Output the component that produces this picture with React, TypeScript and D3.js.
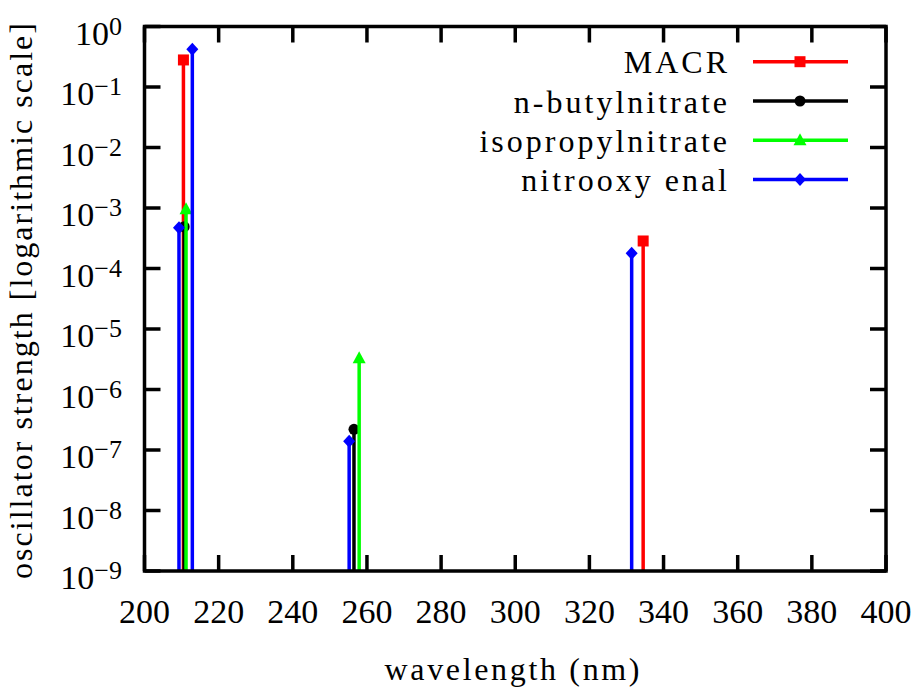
import React from 'react';
import * as d3 from 'd3';

// wavelength (nm) and oscillator strength for each molecule
const macrX = [210.5, 334.5];
const macrF = [0.28, 2.85e-4];
const butylX = [210.7, 256.5];
const butylF = [4.9e-4, 2.2e-7];
const isoX = [211.2, 257.9];
const isoF = [9.5e-4, 3.3e-6];
const enalX = [209.3, 212.9, 255.2, 331.4];
const enalF = [4.7e-4, 0.42, 1.4e-7, 1.78e-4];

const seriesNames = ['MACR', 'n-butylnitrate', 'isopropylnitrate', 'nitrooxy enal'];
const xTicks = [200, 220, 240, 260, 280, 300, 320, 340, 360, 380, 400];
const yExps = [0, -1, -2, -3, -4, -5, -6, -7, -8, -9];

const W = 919;
const H = 690;
const FONT = '"Liberation Serif", "DejaVu Serif", serif';

const series = [
  { name: seriesNames[0], xs: macrX, fs: macrF, color: '#ff0000', marker: 'square' },
  { name: seriesNames[1], xs: butylX, fs: butylF, color: '#000000', marker: 'circle' },
  { name: seriesNames[2], xs: isoX, fs: isoF, color: '#00ff00', marker: 'triangle' },
  { name: seriesNames[3], xs: enalX, fs: enalF, color: '#0000ff', marker: 'diamond' },
];

const Marker = ({ type, x, y, color }: { type: string; x: number; y: number; color: string }) => {
  if (type === 'square') return <rect x={x - 5.5} y={y - 5.5} width={11} height={11} fill={color} />;
  if (type === 'circle') return <circle cx={x} cy={y} r={5.5} fill={color} />;
  if (type === 'triangle')
    return <path d={`M${x},${y - 7} L${x + 6.5},${y + 5} L${x - 6.5},${y + 5} Z`} fill={color} />;
  return <path d={`M${x},${y - 6.5} L${x + 6},${y} L${x},${y + 6.5} L${x - 6},${y} Z`} fill={color} />;
};

const App = () => {
  const x = d3.scaleLinear().domain([200, 400]).range([144.5, 886]);
  const y = d3.scaleLog().domain([1e-9, 1]).range([571, 26.5]);
  const [x0, x1] = x.range();
  const [y0, y1] = y.range();
  const tickLen = 16;

  return (
    <svg width={W} height={H} style={{ position: 'absolute', left: 0, top: 0, background: '#fff' }} fontFamily={FONT}>
      <rect width={W} height={H} fill="#fff" />

      {/* impulses */}
      {series.map(s =>
        s.xs.map((wl, i) => (
          <g key={s.name + i}>
            <line x1={x(wl)} x2={x(wl)} y1={y0} y2={y(s.fs[i])} stroke={s.color} strokeWidth={3.5} />
            <Marker type={s.marker} x={x(wl)} y={y(s.fs[i])} color={s.color} />
          </g>
        ))
      )}

      {/* ticks */}
      {xTicks.map(t => (
        <g key={'x' + t}>
          <line x1={x(t)} x2={x(t)} y1={y0} y2={y0 - tickLen} stroke="#000" strokeWidth={3.5} />
          <line x1={x(t)} x2={x(t)} y1={y1} y2={y1 + tickLen} stroke="#000" strokeWidth={3.5} />
          <text x={x(t)} y={623} textAnchor="middle" fontSize={34}>{t}</text>
        </g>
      ))}
      {yExps.map(e => {
        const yy = y(Math.pow(10, e));
        return (
          <g key={'y' + e}>
            <line x1={x0} x2={x0 + tickLen} y1={yy} y2={yy} stroke="#000" strokeWidth={3.5} />
            <line x1={x1} x2={x1 - tickLen} y1={yy} y2={yy} stroke="#000" strokeWidth={3.5} />
            <text x={122} y={yy + 18} textAnchor="end" fontSize={34}>
              10
              <tspan dy={-10} fontSize={26}>{e === 0 ? '0' : '\u2212' + Math.abs(e)}</tspan>
            </text>
          </g>
        );
      })}

      {/* frame */}
      <rect x={x0} y={y1} width={x1 - x0} height={y0 - y1} fill="none" stroke="#000" strokeWidth={3.5} />

      {/* legend */}
      {series.map((s, i) => {
        const ly = 61.7 + i * 39.3;
        return (
          <g key={'leg' + s.name}>
            <text x={730} y={ly + 11.5} textAnchor="end" fontSize={32} letterSpacing={3}>{s.name}</text>
            <line x1={753} x2={848} y1={ly} y2={ly} stroke={s.color} strokeWidth={3.5} />
            <Marker type={s.marker} x={800} y={ly} color={s.color} />
          </g>
        );
      })}

      {/* axis titles */}
      <text x={512} y={680} textAnchor="middle" fontSize={32} textLength={255} lengthAdjust="spacing">
        wavelength (nm)
      </text>
      <text
        transform="translate(32,301) rotate(-90)"
        textAnchor="middle"
        fontSize={32}
        textLength={556}
        lengthAdjust="spacing"
      >
        oscillator strength [logarithmic scale]
      </text>
    </svg>
  );
};

export default App;
